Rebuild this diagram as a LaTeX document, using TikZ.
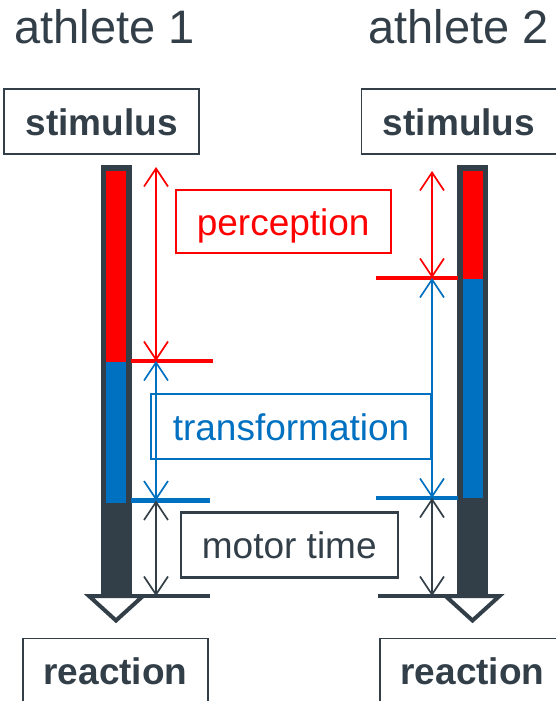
\documentclass[tikz,border=0pt]{standalone}
\usepackage{fontspec}
\setmainfont{Liberation Sans}
\usepackage{tikz}
\usetikzlibrary{arrows.meta}
\definecolor{slate}{RGB}{51, 63, 72}
\definecolor{percep}{RGB}{255, 0, 0}
\definecolor{transf}{RGB}{0, 112, 192}
\tikzset{
  x=1pt, y=-1pt,
  titletext/.style={font=\fontsize{47}{56}\selectfont, text=slate, anchor=base, inner sep=0pt},
  baseblock/.style={
    rectangle, font=\fontsize{37}{44}\selectfont,
    text height=27pt, text depth=0pt, inner sep=0pt,
    minimum height=65pt, align=center
  },
  eventblock/.style={baseblock, draw=slate, text=slate, line width=1.5pt,
    font=\fontsize{37}{44}\selectfont\bfseries},
  phaseblock/.style={baseblock, line width=2.4pt, draw=#1, text=#1},
  markline/.style={draw=#1, line width=4.5pt},
  tipblock/.style={draw=slate, fill=white, line width=4pt, line join=miter},
  dimline/.style={
    draw=#1, line width=1.7pt,
    {Straight Barb[length=18pt, width=24pt]}-{Straight Barb[length=18pt, width=24pt]}
  }
}

\begin{document}
\begin{tikzpicture}
  \useasboundingbox (0,0) rectangle (555,701);

  % titles
  \node[titletext] (title1) at (104.5,44) {athlete 1};
  \node[titletext] (title2) at (458.5,44) {athlete 2};

  % athlete 1 bar
  \fill[slate] (100.5,165) rectangle (131.5,596);
  \fill[percep] (106,171) rectangle (126,362);
  \fill[transf] (106,362) rectangle (126,503);
  \draw[markline=percep] (131,361) -- (213,361);
  \draw[markline=transf] (131,500.5) -- (210,500.5);
  \draw[markline=slate] (131,596) -- (210,596);
  \draw[tipblock] (89,596) -- (143,596) -- (116,620.5) -- cycle;

  % athlete 2 bar
  \fill[slate] (457,165) rectangle (488,596);
  \fill[percep] (462.5,171) rectangle (482.5,279);
  \fill[transf] (462.5,279) rectangle (482.5,498);
  \draw[markline=percep] (376,278) -- (457.5,278);
  \draw[markline=transf] (376,498) -- (457.5,498);
  \draw[markline=slate] (378,596) -- (457.5,596);
  \draw[tipblock] (445.5,596) -- (499.5,596) -- (472.5,620.5) -- cycle;

  % stimulus and reaction
  \node[eventblock, minimum width=195pt] (stim1) at (101.5,121.5) {stimulus};
  \node[eventblock, minimum width=195pt] (stim2) at (459,121.5) {stimulus};
  \node[eventblock, minimum width=185pt] (reac1) at (115.5,671) {reaction};
  \node[eventblock, minimum width=185pt] (reac2) at (472.5,671) {reaction};

  % phases
  \node[phaseblock=percep, minimum width=215pt, minimum height=63pt] (perc) at (283.2,221.5) {perception};
  \node[phaseblock=transf, minimum width=280pt] (trans) at (291,426.5) {transformation};
  \node[phaseblock=slate, minimum width=217pt] (motor) at (289.3,545) {motor time};

  % time marks
  \coordinate (s1) at (156,167);
  \coordinate (p1) at (156,361);
  \coordinate (t1) at (156,500.5);
  \coordinate (m1) at (156,596);
  \coordinate (s2) at (432,171);
  \coordinate (p2) at (432,278);
  \coordinate (t2) at (432,498);
  \coordinate (m2) at (432,596);

  \draw[dimline=percep] (s1) -- (p1);
  \draw[dimline=transf] (p1) -- (t1);
  \draw[dimline=slate] (t1) -- (m1);
  \draw[dimline=percep] (s2) -- (p2);
  \draw[dimline=transf] (p2) -- (t2);
  \draw[dimline=slate] (t2) -- (m2);
\end{tikzpicture}
\end{document}
